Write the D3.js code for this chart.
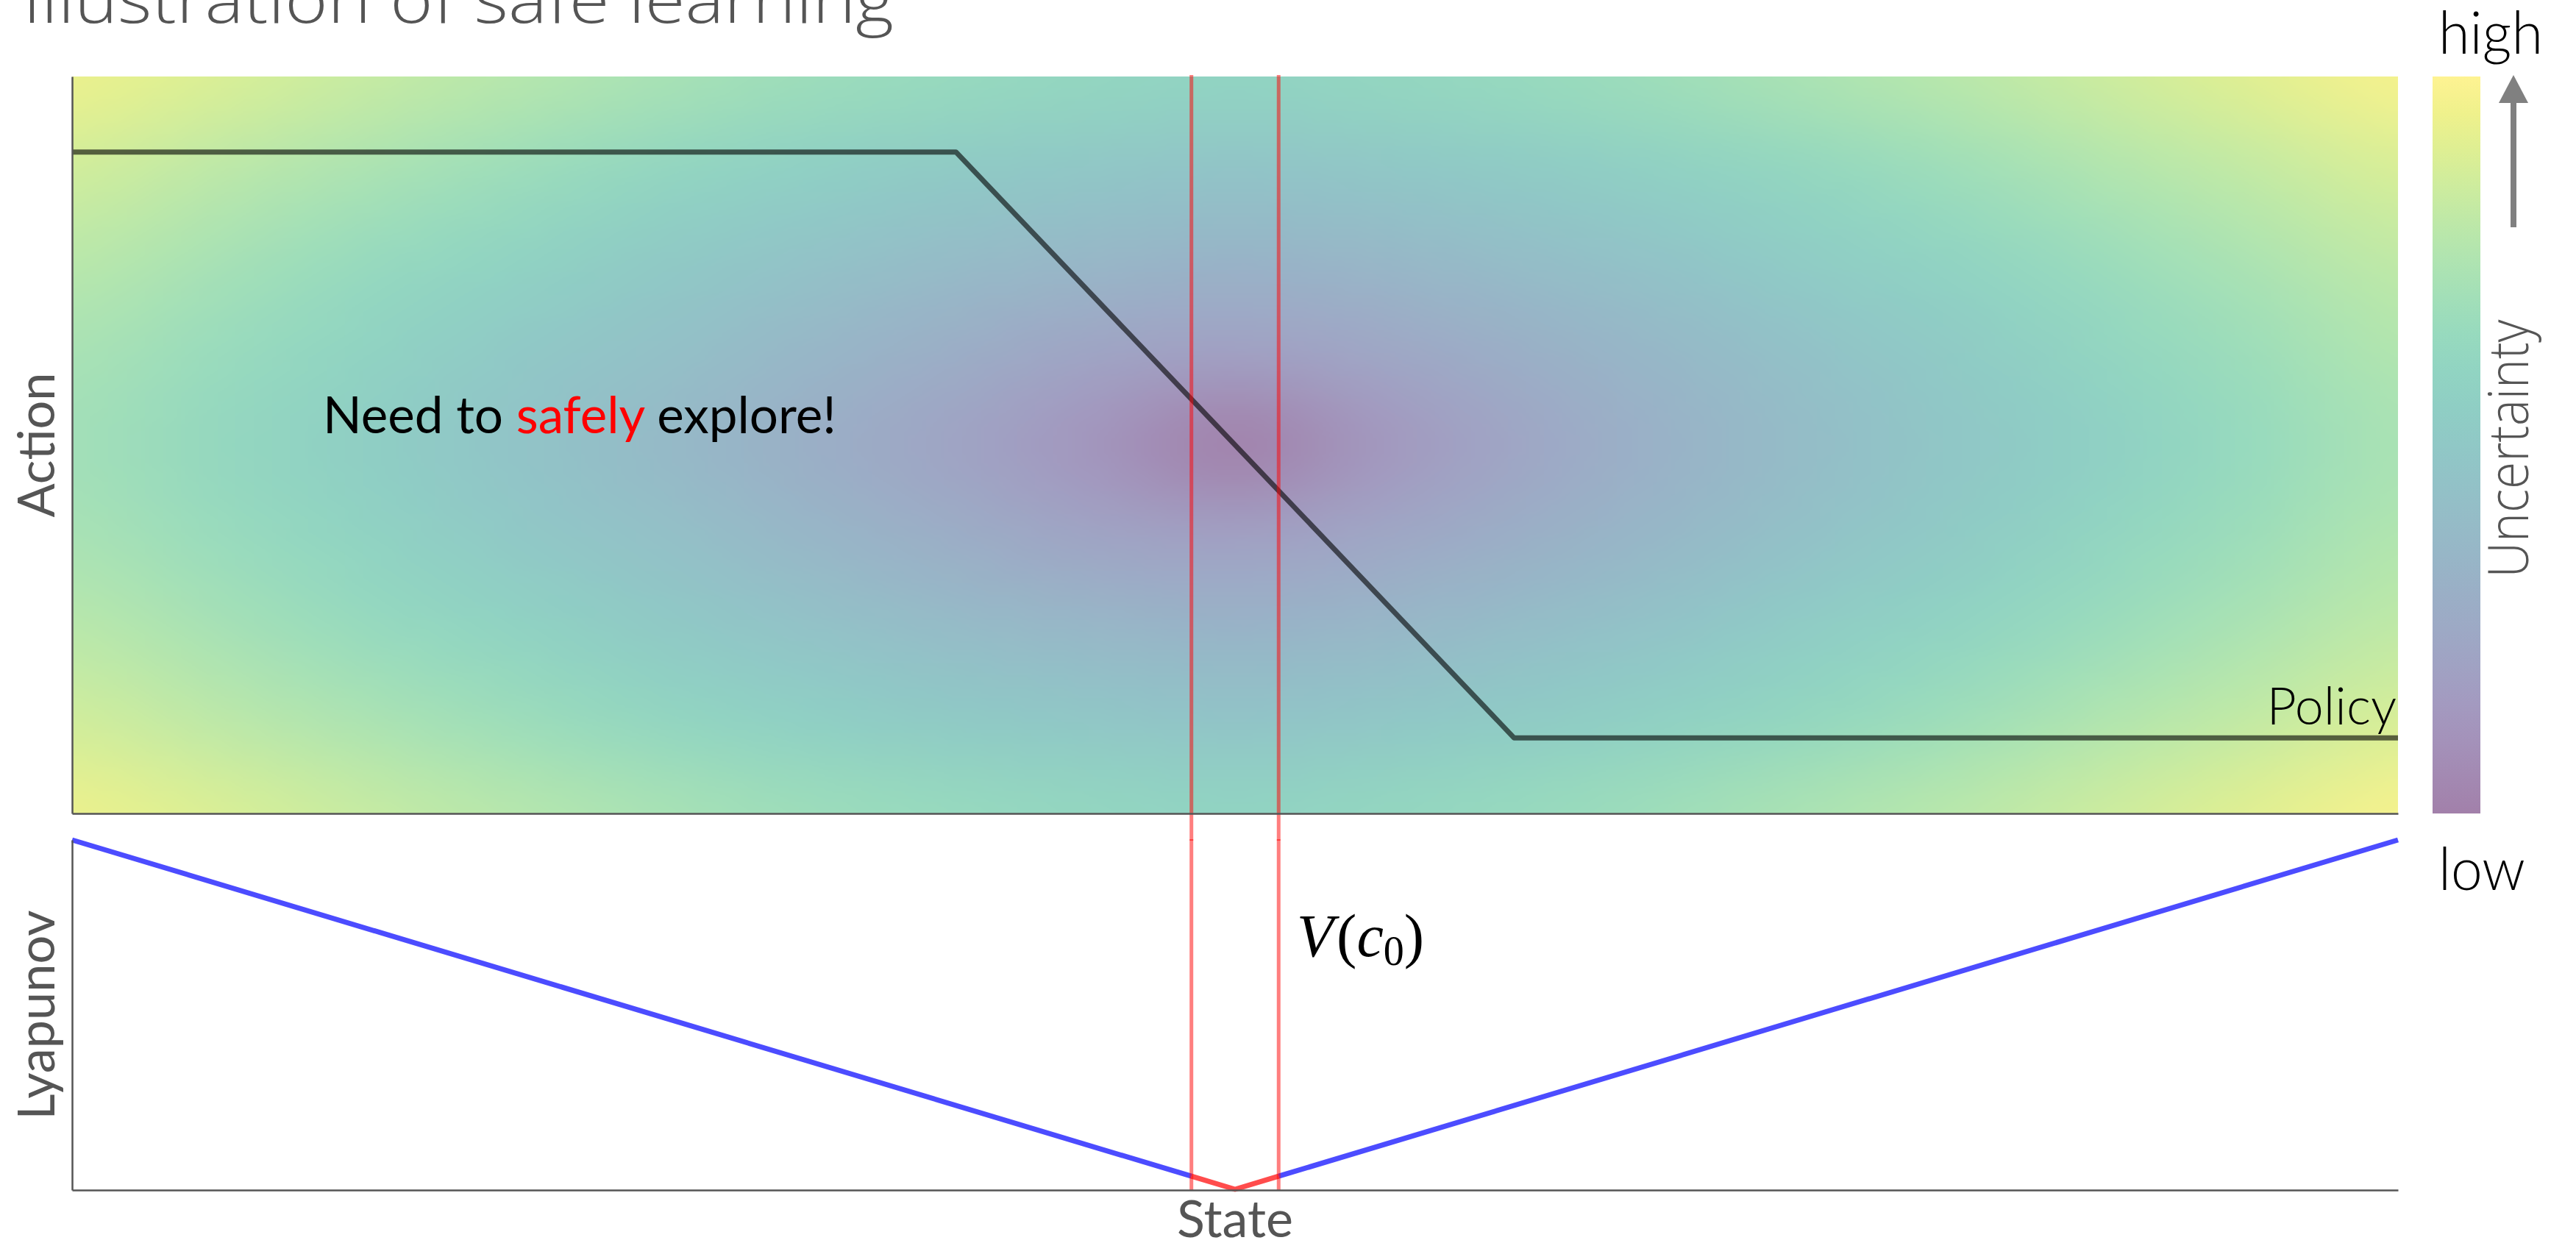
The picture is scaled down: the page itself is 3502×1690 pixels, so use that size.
<!DOCTYPE html>
<html>
<head>
<meta charset="utf-8">
<script src="https://cdn.jsdelivr.net/npm/d3@7/dist/d3.min.js"></script>
<style>
  html, body { margin: 0; padding: 0; background: #ffffff; }
  svg { display: block; }
</style>
</head>
<body>
<svg id="chart" width="3502" height="1690"></svg>
<script>
// ---- data -------------------------------------------------------------
// state / action grid on which the uncertainty is tabulated
const uncertaintyStates = [-1, -0.875, -0.75, -0.625, -0.5, -0.375, -0.25, -0.125, 0,
                           0.125, 0.25, 0.375, 0.5, 0.625, 0.75, 0.875, 1];
const uncertaintyActions = [1, 0.75, 0.5, 0.25, 0, -0.25, -0.5, -0.75, -1];
// uncertainty (0 = low, 1 = high), one row per action, top to bottom
const uncertaintyGrid = [
  [0.94, 0.89, 0.83, 0.78, 0.73, 0.68, 0.65, 0.62, 0.60, 0.62, 0.65, 0.69, 0.74, 0.79, 0.85, 0.91, 0.97],
  [0.86, 0.80, 0.74, 0.68, 0.62, 0.57, 0.52, 0.49, 0.47, 0.49, 0.53, 0.58, 0.63, 0.69, 0.76, 0.82, 0.88],
  [0.79, 0.72, 0.65, 0.59, 0.52, 0.46, 0.40, 0.36, 0.33, 0.36, 0.41, 0.47, 0.54, 0.60, 0.67, 0.74, 0.81],
  [0.73, 0.66, 0.59, 0.51, 0.44, 0.36, 0.29, 0.22, 0.19, 0.23, 0.30, 0.37, 0.45, 0.53, 0.61, 0.68, 0.76],
  [0.70, 0.63, 0.55, 0.47, 0.39, 0.30, 0.22, 0.12, 0.00, 0.13, 0.23, 0.32, 0.41, 0.49, 0.57, 0.65, 0.73],
  [0.73, 0.66, 0.59, 0.51, 0.44, 0.36, 0.29, 0.22, 0.19, 0.23, 0.30, 0.37, 0.45, 0.53, 0.61, 0.68, 0.76],
  [0.79, 0.72, 0.65, 0.59, 0.52, 0.46, 0.40, 0.36, 0.33, 0.36, 0.41, 0.47, 0.54, 0.60, 0.67, 0.74, 0.81],
  [0.86, 0.80, 0.74, 0.68, 0.62, 0.57, 0.52, 0.49, 0.47, 0.49, 0.53, 0.58, 0.63, 0.69, 0.76, 0.82, 0.88],
  [0.94, 0.89, 0.83, 0.78, 0.73, 0.68, 0.65, 0.62, 0.60, 0.62, 0.65, 0.69, 0.74, 0.79, 0.85, 0.91, 0.97]
];

// saturated linear policy
const policyStates  = [-1, -0.24, 0.24, 1];
const policyActions = [0.795, 0.795, -0.795, -0.795];

// Lyapunov function V(x) = |x|
const lyapunovStates = [-1, 0, 1];
const lyapunovValues = [1, 0, 1];

// level set V(c0): boundary states
const levelSetBounds = [-0.0375, 0.0375];

// ---- layout -----------------------------------------------------------
const svg = d3.select("#chart");
const X0 = 98, X1 = 3260;
const TOP = { y0: 104, y1: 1106 };
const BOT = { y0: 1142, y1: 1618 };

const x = d3.scaleLinear().domain([-1, 1]).range([X0, X1]);
const yAction = d3.scaleLinear().domain([-1, 1]).range([TOP.y1, TOP.y0]);
const yLyap = d3.scaleLinear().domain([0, 1]).range([BOT.y1 - 1, BOT.y0]);

// viridis at half opacity over white
const paleViridis = t => d3.interpolateRgb("#ffffff", d3.interpolateViridis(t))(0.5);

// ---- uncertainty field ------------------------------------------------
(function drawField() {
  const nc = uncertaintyStates.length, nr = uncertaintyActions.length;
  const small = document.createElement("canvas");
  small.width = nc; small.height = nr;
  const sctx = small.getContext("2d");
  const img = sctx.createImageData(nc, nr);
  uncertaintyGrid.forEach((row, j) => row.forEach((v, i) => {
    const c = d3.rgb(paleViridis(v));
    const k = 4 * (j * nc + i);
    img.data[k] = c.r; img.data[k + 1] = c.g; img.data[k + 2] = c.b; img.data[k + 3] = 255;
  }));
  sctx.putImageData(img, 0, 0);

  const W = X1 - X0, H = TOP.y1 - TOP.y0;
  // step up in stages for a smoother result
  let src = small;
  const stages = [[nc * 8, nr * 8], [nc * 40, nr * 40]];
  const cellFracX = 1 / (nc - 1), cellFracY = 1 / (nr - 1);
  stages.forEach(([w, h]) => {
    const c = document.createElement("canvas");
    c.width = w; c.height = h;
    const cx = c.getContext("2d");
    cx.imageSmoothingEnabled = true;
    cx.imageSmoothingQuality = "high";
    cx.drawImage(src, 0, 0, w, h);
    src = c;
  });
  const big = document.createElement("canvas");
  big.width = W; big.height = H;
  const bctx = big.getContext("2d");
  bctx.imageSmoothingEnabled = true;
  bctx.imageSmoothingQuality = "high";
  // sample centres sit on the grid states/actions
  const cw = (x(uncertaintyStates[1]) - x(uncertaintyStates[0]));
  const ch = (yAction(uncertaintyActions[1]) - yAction(uncertaintyActions[0]));
  bctx.drawImage(src, -cw / 2, -ch / 2, W + cw, H + ch);

  svg.append("image")
    .attr("x", X0).attr("y", TOP.y0)
    .attr("width", W).attr("height", H)
    .attr("preserveAspectRatio", "none")
    .attr("href", big.toDataURL("image/png"));
})();

// ---- top panel: policy -------------------------------------------------
const policyLine = d3.line().x(d => x(d[0])).y(d => yAction(d[1]));
svg.append("path")
  .datum(policyStates.map((s, i) => [s, policyActions[i]]))
  .attr("d", policyLine)
  .attr("fill", "none")
  .attr("stroke", "#000")
  .attr("stroke-opacity", 0.6)
  .attr("stroke-width", 7)
  .attr("stroke-linejoin", "round");

svg.append("text")
  .attr("x", X1 - 2).attr("y", 985)
  .attr("text-anchor", "end")
  .attr("font-family", "Lato, 'Open Sans', sans-serif")
  .attr("font-weight", 300)
  .attr("font-size", 70)
  .attr("fill", "#000")
  .text("Policy");

const msg = svg.append("text")
  .attr("x", 439).attr("y", 589)
  .attr("font-family", "Lato, 'Open Sans', sans-serif")
  .attr("font-size", 70)
  .attr("fill", "#000")
  .attr("textLength", 698)
  .attr("lengthAdjust", "spacingAndGlyphs");
msg.append("tspan").text("Need to ");
msg.append("tspan").attr("fill", "#ff0000").text("safely");
msg.append("tspan").text(" explore!");

// ---- bottom panel: Lyapunov function -------------------------------------
const lyap = s => {
  // piecewise-linear read of the Lyapunov table
  for (let i = 0; i < lyapunovStates.length - 1; i++) {
    if (s >= lyapunovStates[i] && s <= lyapunovStates[i + 1]) {
      const t = (s - lyapunovStates[i]) / (lyapunovStates[i + 1] - lyapunovStates[i]);
      return lyapunovValues[i] + t * (lyapunovValues[i + 1] - lyapunovValues[i]);
    }
  }
  return lyapunovValues[lyapunovValues.length - 1];
};
const lyapLine = d3.line().x(d => x(d[0])).y(d => yLyap(d[1]));
const outsideLeft  = [[lyapunovStates[0], lyapunovValues[0]], [levelSetBounds[0], lyap(levelSetBounds[0])]];
const outsideRight = [[levelSetBounds[1], lyap(levelSetBounds[1])], [lyapunovStates[2], lyapunovValues[2]]];
const inside = [[levelSetBounds[0], lyap(levelSetBounds[0])], [lyapunovStates[1], lyapunovValues[1]],
                [levelSetBounds[1], lyap(levelSetBounds[1])]];

[outsideLeft, outsideRight].forEach(seg => {
  svg.append("path").datum(seg).attr("d", lyapLine)
    .attr("fill", "none").attr("stroke", "#0000ff").attr("stroke-opacity", 0.7)
    .attr("stroke-width", 7);
});
svg.append("path").datum(inside).attr("d", lyapLine)
  .attr("fill", "none").attr("stroke", "#ff0000").attr("stroke-opacity", 0.7)
  .attr("stroke-width", 7).attr("stroke-linejoin", "round");

// ---- level-set boundaries across both panels ----------------------------
levelSetBounds.forEach(s => {
  [[TOP.y0 - 2, TOP.y1], [TOP.y1, BOT.y0 + 1], [BOT.y0 - 1, BOT.y1]].forEach(([a, b]) => {
    svg.append("line")
      .attr("x1", x(s)).attr("x2", x(s))
      .attr("y1", a).attr("y2", b)
      .attr("stroke", "#ff0000").attr("stroke-opacity", 0.5)
      .attr("stroke-width", 5);
  });
});

// ---- spines -------------------------------------------------------------
function spines(yScale, y1) {
  svg.append("g").attr("transform", `translate(${X0},0)`)
    .call(d3.axisLeft(yScale).ticks(0).tickSize(0).tickSizeOuter(0))
    .call(g => g.select(".domain").attr("stroke", "#555").attr("stroke-width", 2.5));
  svg.append("g").attr("transform", `translate(0,${y1})`)
    .call(d3.axisBottom(x).ticks(0).tickSize(0).tickSizeOuter(0))
    .call(g => g.select(".domain").attr("stroke", "#555").attr("stroke-width", 2.5));
}
spines(yAction, TOP.y1);
spines(d3.scaleLinear().domain([0, 1]).range([BOT.y1, BOT.y0]), BOT.y1);

// ---- axis labels --------------------------------------------------------
const labelFont = "Lato, 'Open Sans', sans-serif";
svg.append("text")
  .attr("transform", `translate(74,${(TOP.y0 + TOP.y1) / 2}) rotate(-90)`)
  .attr("text-anchor", "middle")
  .attr("font-family", labelFont).attr("font-size", 70).attr("fill", "#555")
  .attr("textLength", 197).attr("lengthAdjust", "spacingAndGlyphs")
  .text("Action");
svg.append("text")
  .attr("transform", `translate(74,${(BOT.y0 + BOT.y1) / 2}) rotate(-90)`)
  .attr("text-anchor", "middle")
  .attr("font-family", labelFont).attr("font-size", 70).attr("fill", "#555")
  .attr("textLength", 285).attr("lengthAdjust", "spacingAndGlyphs")
  .text("Lyapunov");
svg.append("text")
  .attr("x", x(0)).attr("y", 1682)
  .attr("text-anchor", "middle")
  .attr("font-family", labelFont).attr("font-size", 70).attr("fill", "#555")
  .attr("textLength", 158).attr("lengthAdjust", "spacingAndGlyphs")
  .text("State");

// V(c0) label
const vl = svg.append("text")
  .attr("x", 1763).attr("y", 1300)
  .attr("font-family", "'Liberation Serif', 'DejaVu Serif', serif")
  .attr("font-size", 82).attr("fill", "#000");
vl.append("tspan").attr("font-style", "italic").text("V");
vl.append("tspan").attr("dx", 4).text("(");
vl.append("tspan").attr("font-style", "italic").text("c");
vl.append("tspan").attr("font-size", 56).attr("dy", 12).text("0");
vl.append("tspan").attr("dy", -12).text(")");

// title (runs off the top edge)
svg.append("text")
  .attr("x", 31).attr("y", 31)
  .attr("font-family", "'Open Sans', Lato, sans-serif")
  .attr("font-weight", 300)
  .attr("font-size", 88).attr("fill", "#555")
  .attr("textLength", 1184).attr("lengthAdjust", "spacingAndGlyphs")
  .text("Illustration of safe learning");

// ---- colour bar ---------------------------------------------------------
const CB = { x: 3307, w: 65, y0: TOP.y0, y1: TOP.y1 };
const defs = svg.append("defs");
const grad = defs.append("linearGradient").attr("id", "cbar")
  .attr("x1", 0).attr("y1", 1).attr("x2", 0).attr("y2", 0);
d3.range(0, 1.0001, 0.05).forEach(t => {
  grad.append("stop").attr("offset", t).attr("stop-color", paleViridis(t));
});
svg.append("rect")
  .attr("x", CB.x).attr("y", CB.y0)
  .attr("width", CB.w).attr("height", CB.y1 - CB.y0)
  .attr("fill", "url(#cbar)");

// arrow pointing to "high"
const ax = 3417;
svg.append("rect").attr("x", ax - 4).attr("y", 138).attr("width", 8).attr("height", 171).attr("fill", "#808080");
svg.append("path").attr("d", `M${ax},102 L${ax + 20},140 L${ax - 20},140 Z`).attr("fill", "#808080");

svg.append("text")
  .attr("x", 3315).attr("y", 73)
  .attr("font-family", labelFont).attr("font-weight", 300)
  .attr("font-size", 80).attr("fill", "#000")
  .attr("textLength", 142).attr("lengthAdjust", "spacingAndGlyphs")
  .text("high");
svg.append("text")
  .attr("x", 3315).attr("y", 1210)
  .attr("font-family", labelFont).attr("font-weight", 300)
  .attr("font-size", 80).attr("fill", "#000")
  .attr("textLength", 118).attr("lengthAdjust", "spacingAndGlyphs")
  .text("low");
svg.append("text")
  .attr("transform", "translate(3437,610) rotate(-90)")
  .attr("text-anchor", "middle")
  .attr("font-family", "'Open Sans', Lato, sans-serif").attr("font-weight", 300)
  .attr("font-size", 75).attr("fill", "#555")
  .attr("textLength", 351).attr("lengthAdjust", "spacingAndGlyphs")
  .text("Uncertainty");
</script>
</body>
</html>
